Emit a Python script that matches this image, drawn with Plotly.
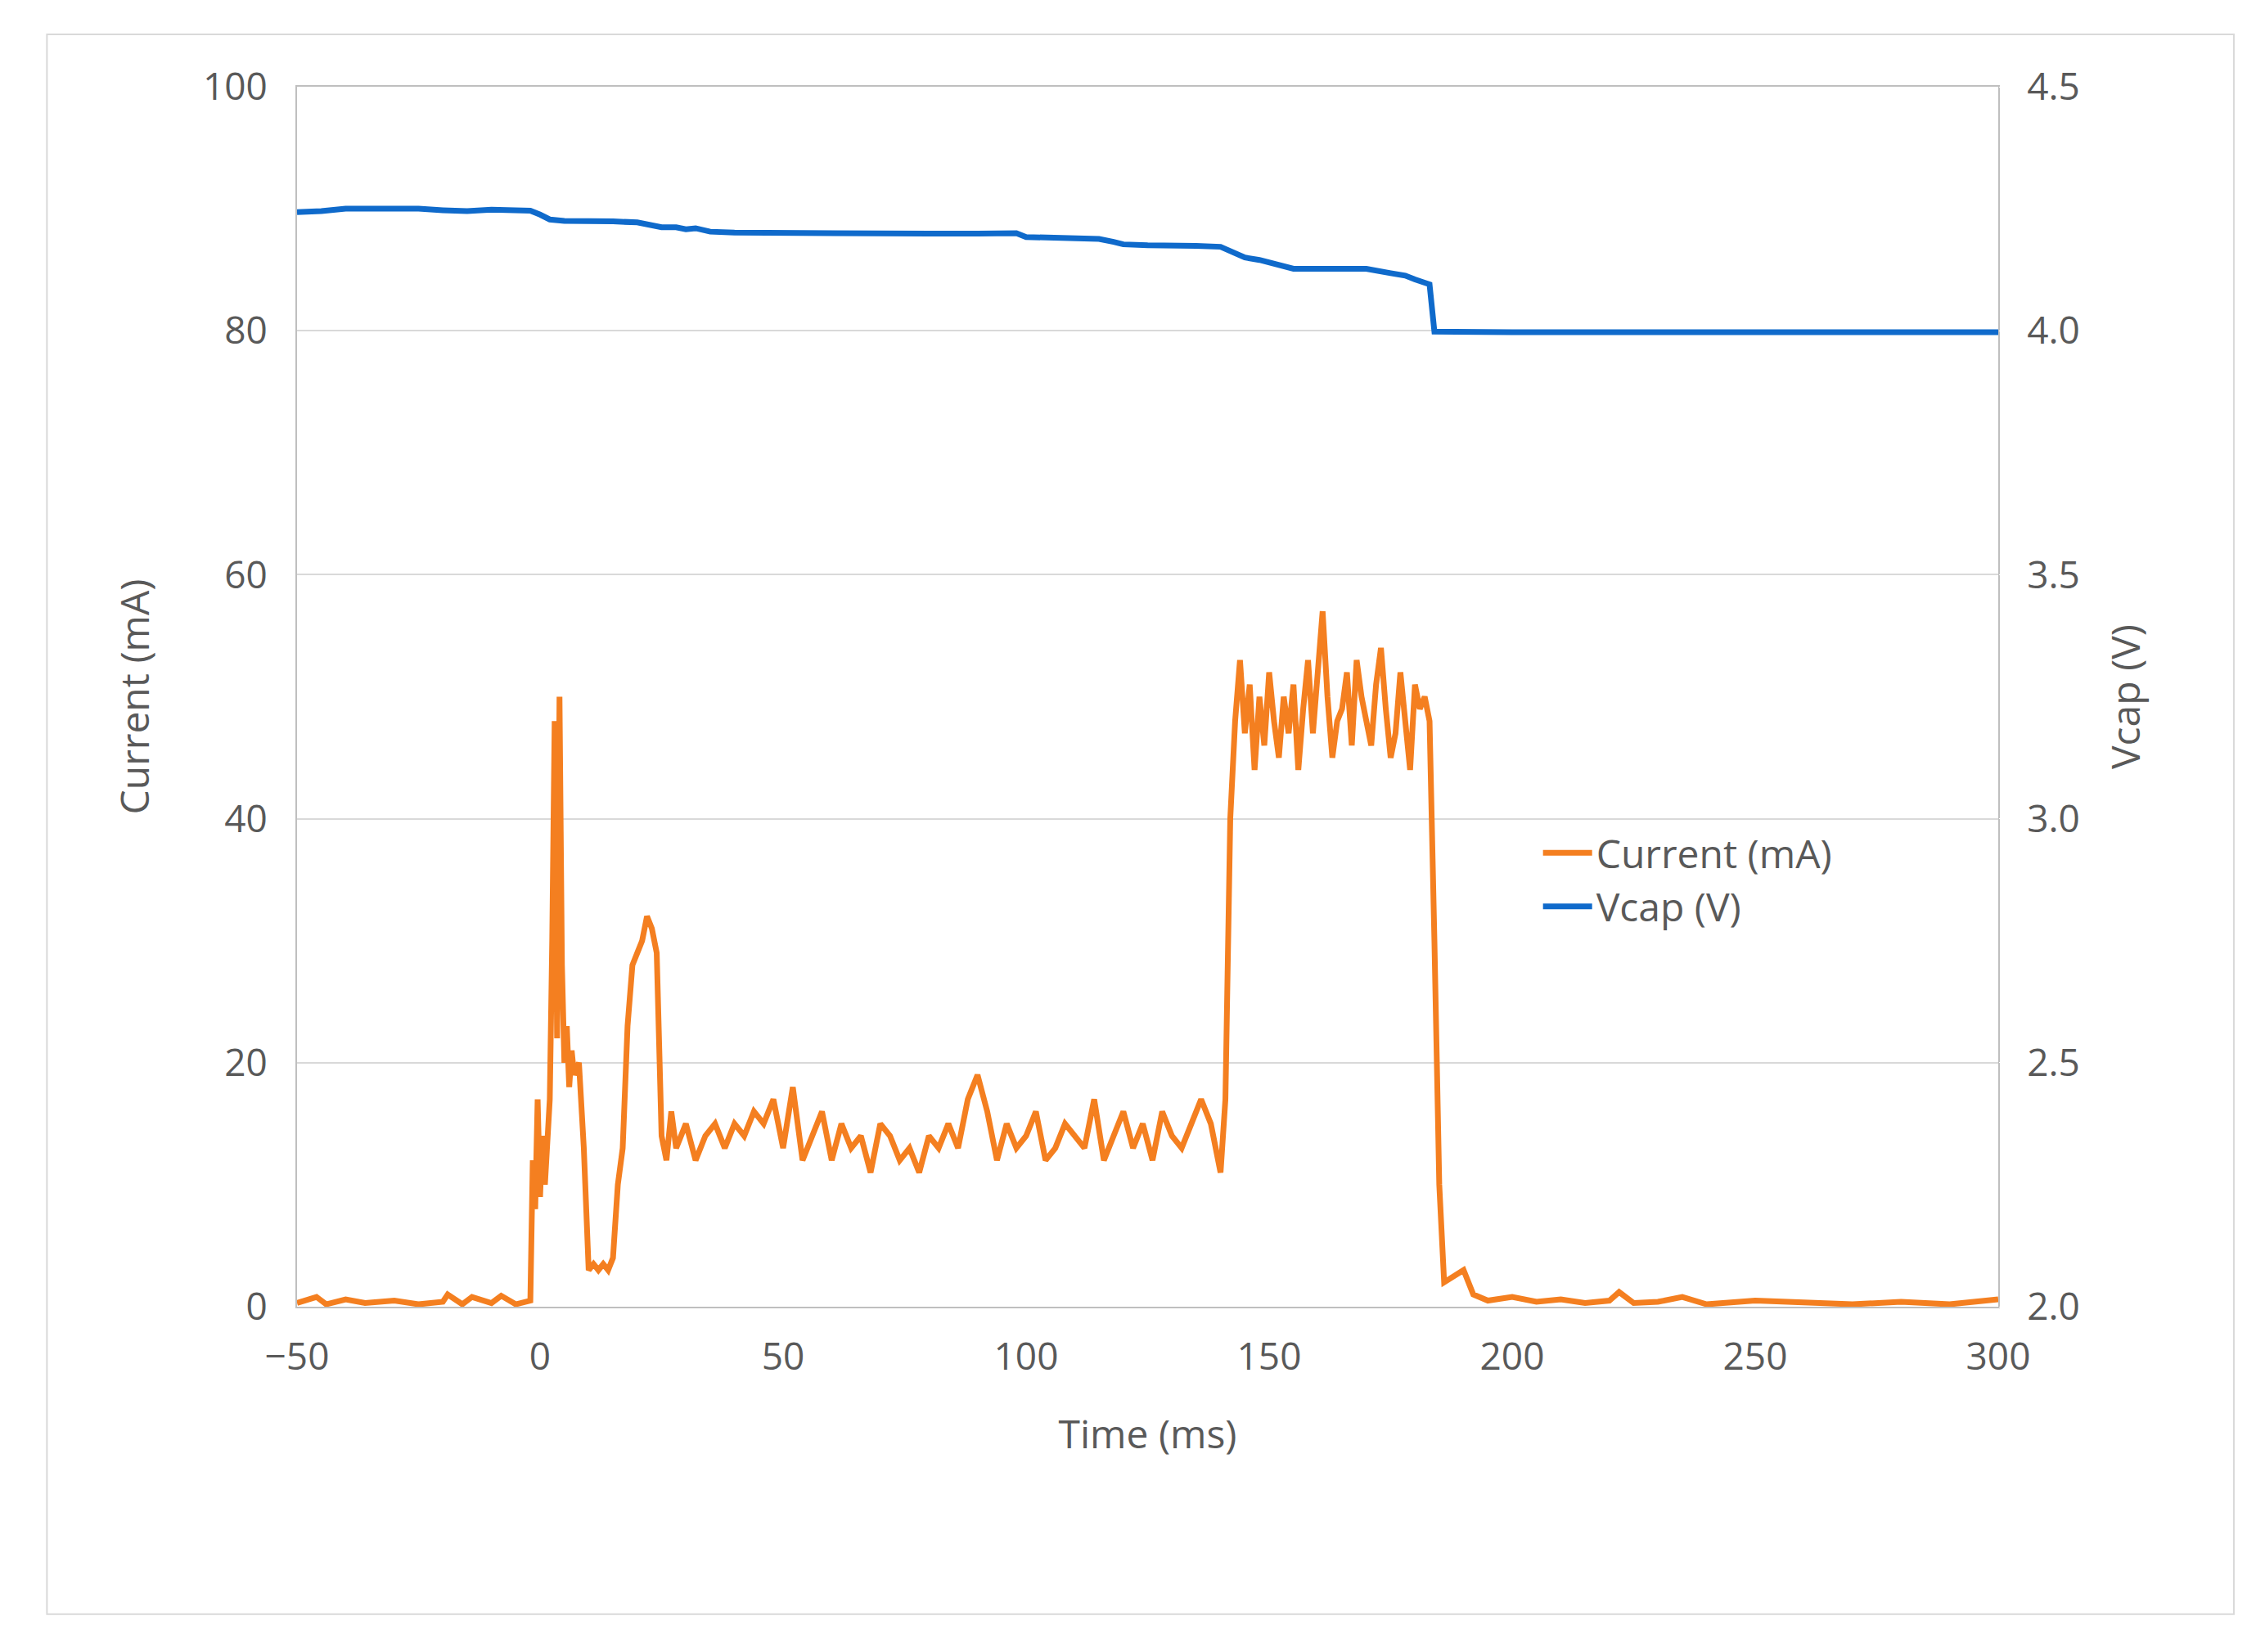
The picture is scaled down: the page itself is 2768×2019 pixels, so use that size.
import plotly.graph_objects as go

# Current (mA) trace, (time ms, value) pairs
cur_pairs = [(-50,0.3),(-46,0.8),(-44,0.2),(-40,0.6),(-36,0.3),(-30,0.5),(-25,0.2),(-20,0.4),(-19,1.0),(-16,0.2),(-14,0.8),(-10,0.3),(-8,0.9),(-5,0.2),(-2,0.5),
 (-1.5,12),(-1,8),(-0.5,17),(0,9),(0.5,14),(1,10),(1.5,13),(2,17),(2.5,30),(3,48),(3.5,22),(4,50),(4.5,28),(5,20),(5.5,23),(6,18),(6.5,21),(7,19),(8,20),(9,13),
 (10,3),(11,3.5),(12,3),(13,3.5),(14,3),(15,4),(16,10),(17,13),(18,23),(19,28),(20,29),(21,30),(22,32),(23,31),(24,29),(25,14),(26,12),(27,16),(28,13),
 (30,15),(32,12),(34,14),(36,15),(38,13),(40,15),(42,14),(44,16),(46,15),(48,17),(50,13),(52,18),(54,12),(56,14),(58,16),(60,12),(62,15),(64,13),(66,14),
 (68,11),(70,15),(72,14),(74,12),(76,13),(78,11),(80,14),(82,13),(84,15),(86,13),(88,17),(90,19),(92,16),(94,12),(96,15),(98,13),(100,14),(102,16),(104,12),
 (106,13),(108,15),(110,14),(112,13),(114,17),(116,12),(118,14),(120,16),(122,13),(124,15),(126,12),(128,16),(130,14),(132,13),(134,15),(136,17),(138,15),
 (140,11),(141,17),(142,40),(143,48),(144,53),(145,47),(146,51),(147,44),(148,50),(149,46),(150,52),(151,48),(152,45),(153,50),(154,47),(155,51),(156,44),
 (157,49),(158,53),(159,47),(160,52),(161,57),(162,50),(163,45),(164,48),(165,49),(166,52),(167,46),(168,53),(169,50),(170,48),(171,46),(172,51),(173,54),
 (174,49),(175,45),(176,47),(177,52),(178,48),(179,44),(180,51),(181,49),(182,50),(183,48),(184,30),(185,10),(186,2),(188,2.5),(190,3),(192,1),(195,0.5),
 (200,0.8),(205,0.4),(210,0.6),(215,0.3),(220,0.5),(222,1.2),(225,0.3),(230,0.4),(235,0.8),(240,0.2),(250,0.5),(260,0.3),(270,0.2),(280,0.4),(290,0.2),(300,0.6)]
t_cur = [p[0] for p in cur_pairs]
current = [p[1] for p in cur_pairs]

# Vcap (V) trace
v_pairs = [(-50,4.243),(-45,4.245),(-40,4.25),(-35,4.25),(-30,4.249),(-25,4.25),(-20,4.247),(-15,4.245),(-10,4.248),(-5,4.247),(-2,4.246),(0,4.238),
 (2,4.228),(5,4.225),(10,4.225),(15,4.224),(20,4.222),(22,4.218),(25,4.212),(28,4.212),(30,4.208),(32,4.21),(35,4.203),(40,4.201),(50,4.2),(60,4.2),
 (70,4.2),(80,4.199),(90,4.199),(98,4.2),(100,4.192),(105,4.19),(110,4.19),(115,4.188),(118,4.182),(120,4.177),(125,4.175),(130,4.175),(135,4.174),
 (140,4.172),(143,4.158),(145,4.15),(148,4.145),(150,4.14),(153,4.13),(155,4.127),(160,4.127),(165,4.126),(170,4.127),(175,4.118),(178,4.113),
 (180,4.105),(183,4.1),(185,3.998),(190,3.997),(200,3.997),(250,3.997),(300,3.997)]
t_v = [p[0] for p in v_pairs]
vcap = [p[1] for p in v_pairs]
# gentler final step as in the picture
vcap[-6] = 4.095
t_v[-5] = 184

gray = "#595959"
fig = go.Figure()
fig.add_trace(go.Scatter(x=t_cur, y=current, name="Current (mA)", mode="lines",
                         line=dict(color="#F47F20", width=7)))
fig.add_trace(go.Scatter(x=t_v, y=vcap, name="Vcap (V)", mode="lines", yaxis="y2",
                         line=dict(color="#0F6ACB", width=7)))

fig.update_layout(
    width=2768, height=2019, paper_bgcolor="white", plot_bgcolor="white",
    margin=dict(l=355, r=334, t=98, b=430),
    font=dict(family="Open Sans, sans-serif", size=42, color=gray), showlegend=True,
    legend=dict(x=0.73, y=0.35, xanchor="left", yanchor="middle", font=dict(size=48, color=gray),
                bgcolor="rgba(0,0,0,0)", itemwidth=60, tracegroupgap=30),
    xaxis=dict(range=[-50, 300], dtick=50, tick0=-50, showgrid=False, zeroline=False,
               showline=True, linecolor="#BFBFBF", linewidth=2, mirror=True,
               ticks="outside", ticklen=20, tickcolor="white",
               title=dict(text="Time (ms)", font=dict(size=48, color=gray), standoff=50),
               tickfont=dict(size=46, color=gray)),
    yaxis=dict(range=[0, 100], dtick=20, showgrid=True, gridcolor="#D9D9D9", gridwidth=2,
               zeroline=False, showline=True, linecolor="#BFBFBF", linewidth=2, mirror=True,
               ticks="outside", ticklen=25, tickcolor="white",
               title=dict(text="Current (mA)", font=dict(size=48, color=gray), standoff=50),
               tickfont=dict(size=46, color=gray)),
    yaxis2=dict(range=[2.0, 4.5], dtick=0.5, overlaying="y", side="right", showgrid=False,
                zeroline=False, tickformat=".1f", ticks="outside", ticklen=25, tickcolor="white",
                title=dict(text="Vcap (V)", font=dict(size=48, color=gray), standoff=40),
                tickfont=dict(size=46, color=gray)),
    shapes=[dict(type="rect", xref="paper", yref="paper", x0=-0.147, x1=1.1385, y0=-0.252, y1=1.043,
                 line=dict(color="#D9D9D9", width=2))],
    annotations=[dict(text="(<b>a</b>)", xref="paper", yref="paper", x=0.493, y=-0.30,
                      yanchor="top", showarrow=False,
                      font=dict(family="Liberation Serif, serif", size=64, color="black"))],
)
fig.write_html("out.html")
